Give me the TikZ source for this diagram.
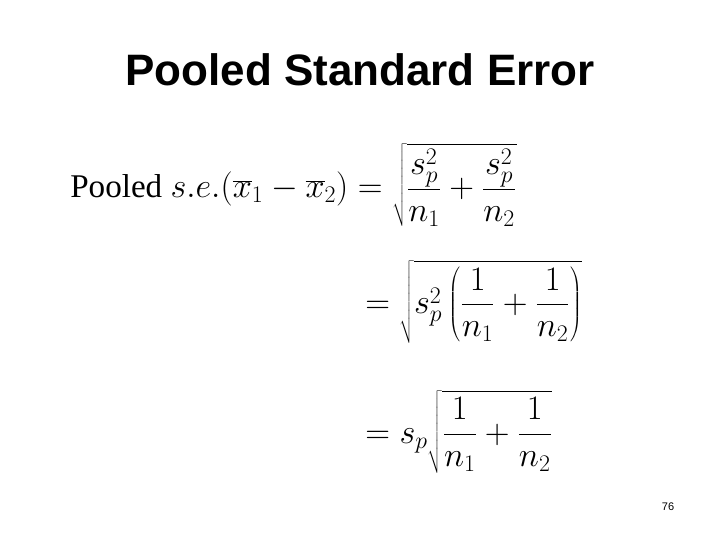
\documentclass[tikz,border=0pt]{standalone}
\usepackage{fontspec}
\setmainfont{Liberation Serif}
\setsansfont{Liberation Sans}
\begin{document}
\begin{tikzpicture}[x=1pt,y=-1pt,
  eq/.style={anchor=west,inner sep=0pt,scale=1.38,transform shape,font=\fontsize{24}{30}\selectfont}]
\useasboundingbox (0,0) rectangle (720,540);
\node[font=\sffamily\bfseries\fontsize{44}{50}\selectfont] (title) at (360,70) {Pooled Standard Error};
\node[eq] (l1) at (70,185) {Pooled $s.e.(\overline{x}_1-\overline{x}_2)=\displaystyle\sqrt{\frac{s_p^2}{n_1}+\frac{s_p^2}{n_2}}$};
\node[eq] (l2) at (365,302) {$=\displaystyle\sqrt{s_p^2\left(\frac{1}{n_1}+\frac{1}{n_2}\right)}$};
\node[eq] (l3) at (365,432) {$=s_p\displaystyle\sqrt{\frac{1}{n_1}+\frac{1}{n_2}}$};
\node[font=\sffamily\fontsize{11}{13}\selectfont] (pg) at (668,507) {76};
\end{tikzpicture}
\end{document}
